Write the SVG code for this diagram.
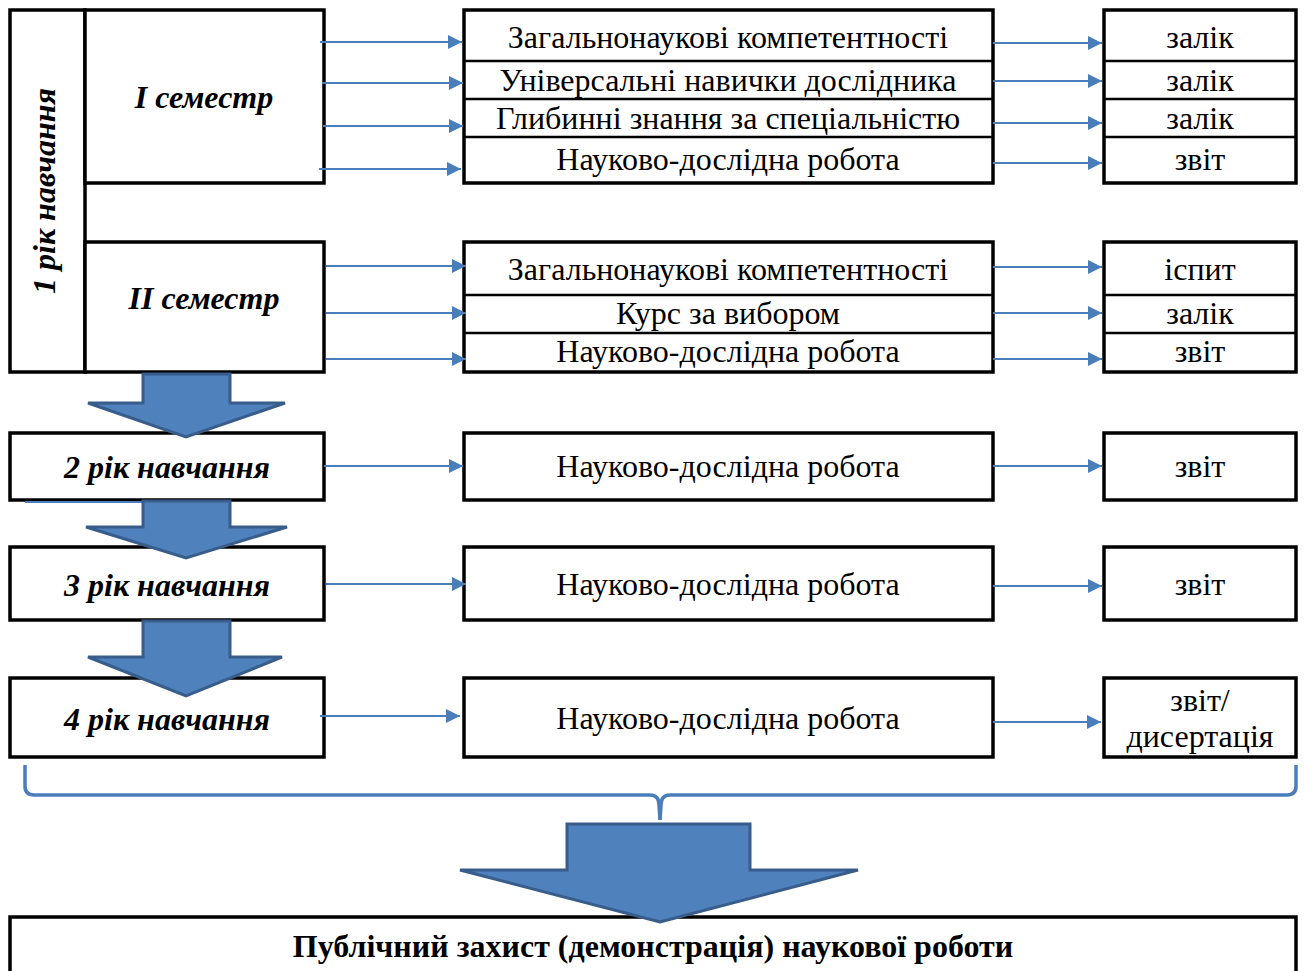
<svg xmlns="http://www.w3.org/2000/svg" width="1305" height="971" viewBox="0 0 1305 971">
<defs>
<marker id="ah" viewBox="0 0 10 10" refX="10" refY="5" markerWidth="7.5" markerHeight="7" markerUnits="strokeWidth" orient="auto">
<path d="M0,0 L10,5 L0,10 z" fill="#4A7EBB"/>
</marker>
<style>
.box{fill:#fff;stroke:#000;stroke-width:3.5}
.ln{stroke:#000;stroke-width:2.5}
.t{font-family:"Liberation Serif","Times New Roman",serif;font-size:32px;fill:#000;text-anchor:middle}
.bi{font-family:"Liberation Serif","Times New Roman",serif;font-size:32px;font-weight:bold;font-style:italic;fill:#000;text-anchor:middle}
.b{font-family:"Liberation Serif","Times New Roman",serif;font-size:32px;font-weight:bold;fill:#000;text-anchor:middle}
.ar{stroke:#4A7EBB;stroke-width:2;fill:none;marker-end:url(#ah)}
.blk{fill:#4F81BD;stroke:#385D8A;stroke-width:3}
.br{fill:none;stroke:#4A7EBB;stroke-width:3.5}
</style>
</defs>
<rect width="1305" height="971" fill="#fff"/>

<g id="year1">
<rect class="box" x="10" y="10" width="75" height="362"/>
<text class="bi" transform="translate(55,191) rotate(-90)">1 рік навчання</text>
</g>
<g id="sem1">
<rect class="box" x="85" y="10" width="239" height="173"/>
<text class="bi" x="204" y="108">I семестр</text>
</g>
<g id="sem2">
<rect class="box" x="85" y="242" width="239" height="130"/>
<text class="bi" x="204" y="309">II семестр</text>
</g>

<g id="sem1-subjects">
<rect class="box" x="464" y="10" width="529" height="173"/>
<line class="ln" x1="464" y1="61" x2="993" y2="61"/>
<line class="ln" x1="464" y1="99" x2="993" y2="99"/>
<line class="ln" x1="464" y1="137" x2="993" y2="137"/>
<text class="t" x="728" y="48">Загальнонаукові компетентності</text>
<text class="t" x="728" y="91">Універсальні навички дослідника</text>
<text class="t" x="728" y="129">Глибинні знання за спеціальністю</text>
<text class="t" x="728" y="170">Науково-дослідна робота</text>
</g>
<g id="sem1-results">
<rect class="box" x="1104" y="10" width="192" height="173"/>
<line class="ln" x1="1104" y1="61" x2="1296" y2="61"/>
<line class="ln" x1="1104" y1="99" x2="1296" y2="99"/>
<line class="ln" x1="1104" y1="137" x2="1296" y2="137"/>
<text class="t" x="1200" y="48">залік</text>
<text class="t" x="1200" y="91">залік</text>
<text class="t" x="1200" y="129">залік</text>
<text class="t" x="1200" y="170">звіт</text>
</g>

<g id="sem2-subjects">
<rect class="box" x="464" y="242" width="529" height="130"/>
<line class="ln" x1="464" y1="295" x2="993" y2="295"/>
<line class="ln" x1="464" y1="333" x2="993" y2="333"/>
<text class="t" x="728" y="280">Загальнонаукові компетентності</text>
<text class="t" x="728" y="324">Курс за вибором</text>
<text class="t" x="728" y="362">Науково-дослідна робота</text>
</g>
<g id="sem2-results">
<rect class="box" x="1104" y="242" width="192" height="130"/>
<line class="ln" x1="1104" y1="295" x2="1296" y2="295"/>
<line class="ln" x1="1104" y1="333" x2="1296" y2="333"/>
<text class="t" x="1200" y="280">іспит</text>
<text class="t" x="1200" y="324">залік</text>
<text class="t" x="1200" y="362">звіт</text>
</g>

<g id="year2">
<rect class="box" x="10" y="433" width="314" height="67"/>
<text class="bi" x="167" y="478">2 рік навчання</text>
</g>
<g id="year2-work">
<rect class="box" x="464" y="433" width="529" height="67"/>
<text class="t" x="728" y="477">Науково-дослідна робота</text>
</g>
<g id="year2-result">
<rect class="box" x="1104" y="433" width="192" height="67"/>
<text class="t" x="1200" y="477">звіт</text>
</g>

<g id="year3">
<rect class="box" x="10" y="547" width="314" height="73"/>
<text class="bi" x="167" y="596">3 рік навчання</text>
</g>
<g id="year3-work">
<rect class="box" x="464" y="547" width="529" height="73"/>
<text class="t" x="728" y="595">Науково-дослідна робота</text>
</g>
<g id="year3-result">
<rect class="box" x="1104" y="547" width="192" height="73"/>
<text class="t" x="1200" y="595">звіт</text>
</g>

<g id="year4">
<rect class="box" x="10" y="678" width="314" height="79"/>
<text class="bi" x="167" y="730">4 рік навчання</text>
</g>
<g id="year4-work">
<rect class="box" x="464" y="678" width="529" height="79"/>
<text class="t" x="728" y="729">Науково-дослідна робота</text>
</g>
<g id="year4-result">
<rect class="box" x="1104" y="678" width="192" height="79"/>
<text class="t" x="1200" y="711">звіт/</text>
<text class="t" x="1200" y="747">дисертація</text>
</g>

<g id="defense">
<rect class="box" x="10" y="917" width="1286" height="70"/>
<text class="b" x="653" y="957">Публічний захист (демонстрація) наукової роботи</text>
</g>

<g id="connectors">
<line class="ar" x1="320" y1="42" x2="462" y2="42"/>
<line class="ar" x1="322" y1="83" x2="463" y2="83"/>
<line class="ar" x1="323" y1="126" x2="463" y2="126"/>
<line class="ar" x1="319" y1="169" x2="461" y2="169"/>
<line class="ar" x1="993" y1="43" x2="1102" y2="43"/>
<line class="ar" x1="993" y1="81" x2="1102" y2="81"/>
<line class="ar" x1="993" y1="123" x2="1102" y2="123"/>
<line class="ar" x1="993" y1="163" x2="1102" y2="163"/>

<line class="ar" x1="326" y1="266" x2="466" y2="266"/>
<line class="ar" x1="326" y1="313" x2="466" y2="313"/>
<line class="ar" x1="326" y1="359" x2="466" y2="359"/>
<line class="ar" x1="993" y1="267" x2="1102" y2="267"/>
<line class="ar" x1="993" y1="313" x2="1102" y2="313"/>
<line class="ar" x1="993" y1="359" x2="1102" y2="359"/>

<line class="ar" x1="324" y1="466" x2="463" y2="466"/>
<line class="ar" x1="993" y1="466" x2="1102" y2="466"/>
<line class="ar" x1="326" y1="584" x2="466" y2="584"/>
<line class="ar" x1="993" y1="586" x2="1102" y2="586"/>
<line class="ar" x1="320" y1="716" x2="460" y2="716"/>
<line class="ar" x1="993" y1="722" x2="1101" y2="722"/>

<line x1="25" y1="502" x2="143" y2="502" stroke="#4A7EBB" stroke-width="2"/>

<polygon class="blk" points="143,374 230,374 230,403 285,403 186,437 88,403 143,403"/>
<polygon class="blk" points="143,501 230,501 230,527 287,527 186,558 86,527 143,527"/>
<polygon class="blk" points="143,621 230,621 230,657 282,657 186,696 88,657 143,657"/>

<path class="br" d="M25,765 L25,786 Q25,795 34,795 L650,795 Q659,795 659,805 L660,820"/>
<path class="br" d="M1296,765 L1296,786 Q1296,795 1287,795 L670,795 Q661,795 661,805 L660,820"/>

<polygon class="blk" points="567,824 750,824 750,870 858,870 660,922 460,870 567,870"/>
</g>
</svg>
